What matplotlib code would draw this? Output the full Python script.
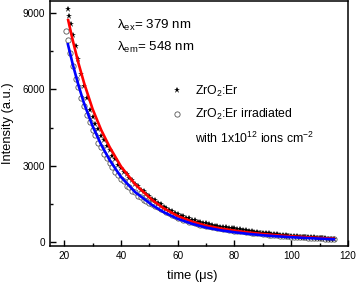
import numpy as np
import matplotlib
matplotlib.use("Agg")
import matplotlib.pyplot as plt
from matplotlib.lines import Line2D

plt.rcParams['font.family'] = ['Liberation Sans', 'DejaVu Sans']
plt.rcParams['mathtext.fontset'] = 'custom'
plt.rcParams['mathtext.rm'] = 'Liberation Sans'
plt.rcParams['mathtext.it'] = 'Liberation Sans:italic'
plt.rcParams['mathtext.bf'] = 'Liberation Sans:bold'

# ---- data: ZrO2:Er (stars) ----
t_er = [21.3, 21.8, 22.4, 23.2] + list(range(24, 116))
i_er = [9160, 8880, 8570, 8150,
        7700, 7180, 6600, 6120, 5650, 5210, 4930, 4650, 4450, 4180,
        4010, 3760, 3610, 3380, 3250, 3040, 2920, 2750, 2660, 2500,
        2420, 2280, 2200, 2060, 1990, 1880, 1820, 1700, 1650, 1540,
        1500, 1390, 1350, 1250, 1220, 1130, 1100, 1030, 1010, 950,
        930, 870, 860, 800, 790, 740, 730, 690, 685, 645,
        640, 600, 600, 570, 565, 540, 535, 505, 500, 465,
        460, 430, 430, 400, 395, 370, 365, 340, 340, 315,
        315, 295, 290, 270, 265, 245, 245, 225, 225, 210,
        210, 195, 195, 180, 178, 165, 162, 150, 148, 135,
        135, 125]

# ---- data: ZrO2:Er irradiated (open circles) ----
t_irr = [20.8, 21.4, 22.2] + list(range(23, 116))
i_irr = [8300, 7940, 7420,
         6920, 6430, 6080, 5650, 5350, 4980, 4720, 4400, 4190, 3910,
         3720, 3470, 3310, 3090, 2960, 2760, 2650, 2470, 2380, 2220,
         2150, 2000, 1950, 1820, 1780, 1660, 1620, 1520, 1490, 1400,
         1370, 1280, 1250, 1170, 1130, 1050, 1020, 950, 925, 870,
         850, 800, 785, 740, 725, 680, 670, 630, 620, 585,
         578, 545, 540, 510, 505, 478, 472, 448, 440, 420,
         412, 392, 385, 362, 358, 336, 332, 310, 305, 288,
         282, 266, 262, 246, 242, 228, 225, 210, 206, 196,
         190, 182, 176, 170, 160, 156, 148, 142, 136, 128,
         124, 116, 110]

# ---- fit curves ----
t_fit_er = [21.4, 23, 25, 27, 30, 33, 36, 40, 45, 51, 55, 60, 65, 70,
            75, 80, 85, 90, 95, 100, 107, 115]
fit_er = [8730, 7940, 7045, 6255, 5230, 4413, 3736, 2970, 2266, 1650,
          1330, 1020, 800, 640, 530, 445, 372, 312, 262, 222, 175, 125]

t_fit_irr = [21.3, 23, 25, 27, 30, 33, 36, 40, 45, 51, 55, 60, 65, 70,
             75, 80, 85, 90, 95, 100, 107, 115]
fit_irr = [7780, 6995, 6175, 5450, 4560, 3830, 3223, 2557, 1960, 1450,
           1175, 910, 715, 565, 460, 380, 315, 262, 220, 186, 145, 105]

x_ticks = [20, 40, 60, 80, 100, 120]
y_ticks = [0, 3000, 6000, 9000]

fig = plt.figure(figsize=(3.57, 2.85), dpi=100)
ax = fig.add_axes([50/357, 1-246/285, 298/357, 245/285])

ax.plot(t_irr, i_irr, linestyle='none', marker='o', markersize=3.8,
        markerfacecolor='white', markeredgecolor='#555555',
        markeredgewidth=0.6, zorder=2)
ax.plot(t_er, i_er, linestyle='none', marker='*', markersize=5,
        color='black', markeredgewidth=0, zorder=3)
ax.plot(t_fit_er, fit_er, color='#ff0000', linewidth=1.9, zorder=4)
ax.plot(t_fit_irr, fit_irr, color='#0000ff', linewidth=1.9, zorder=4)

ax.set_xlim(15, 120)
ax.set_ylim(-160, 9480)
ax.set_xticks(x_ticks)
ax.set_yticks(y_ticks)
ax.set_xticks([30, 50, 70, 90, 110], minor=True)
ax.set_yticks([1500, 4500, 7500], minor=True)
ax.tick_params(which='both', direction='in', top=False, right=False,
               labelsize=7.2, width=1.0)
ax.tick_params(which='major', length=4)
ax.tick_params(which='minor', length=2.2)
for s in ax.spines.values():
    s.set_linewidth(1.1)

ax.set_xlabel('time (μs)', fontsize=9.3)
ax.set_ylabel('Intensity (a.u.)', fontsize=9.3)
ax.xaxis.set_label_coords(0.477, -0.098)
ax.yaxis.set_label_coords(-0.121, 0.5)

ax.text(0.225, 0.902, 'λ$_{\\mathregular{ex}}$= 379 nm', transform=ax.transAxes,
        fontsize=9.6, va='center', ha='left')
ax.text(0.225, 0.812, 'λ$_{\\mathregular{em}}$= 548 nm', transform=ax.transAxes,
        fontsize=9.6, va='center', ha='left')

h1 = Line2D([], [], linestyle='none', marker='*', markersize=5,
            color='black', markeredgewidth=0)
h2 = Line2D([], [], linestyle='none', marker='o', markersize=3.8,
            markerfacecolor='white', markeredgecolor='#555555',
            markeredgewidth=0.6)
h3 = Line2D([], [], linestyle='none')
leg = fig.legend([h1, h2, h3],
                 ['ZrO$_{\\mathregular{2}}$:Er', 'ZrO$_{\\mathregular{2}}$:Er irradiated',
                  'with 1x10$^{\\mathregular{12}}$ ions cm$^{\\mathregular{-2}}$'],
                 loc='upper left', bbox_to_anchor=(170.5/357, 1-83.5/285),
                 frameon=False, fontsize=8.8, handlelength=1.0,
                 handletextpad=1.0, labelspacing=0.7, borderpad=0,
                 borderaxespad=0)

fig.savefig('out.png', dpi=100)
